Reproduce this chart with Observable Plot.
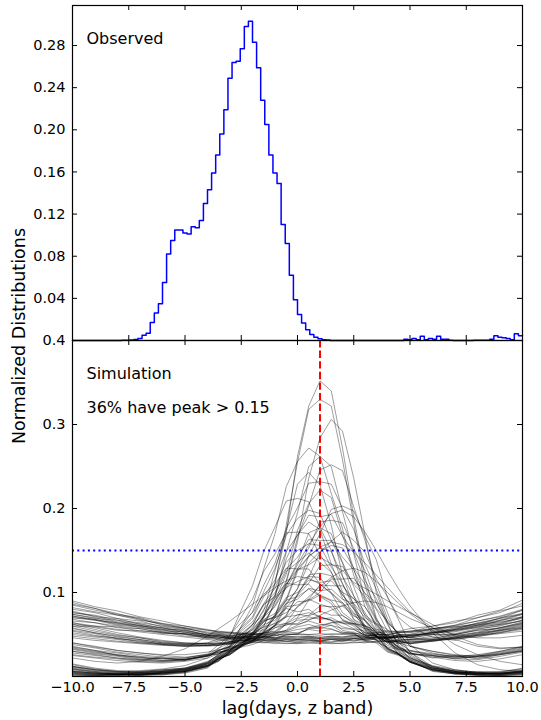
<!DOCTYPE html>
<html><head><meta charset="utf-8">
<script src="https://cdn.jsdelivr.net/npm/d3@7"></script>
<script src="https://cdn.jsdelivr.net/npm/@observablehq/plot@0.6"></script>
<style>
html,body{margin:0;padding:0;background:#fff;}
#wrap{position:relative;width:541px;height:720px;font-family:"DejaVu Sans",sans-serif;color:#000;}
#top,#bot{position:absolute;left:0;}
#top{top:0;}
#bot{top:330px;}
#ylab{position:absolute;left:19px;top:336px;transform:translate(-50%,-50%) rotate(-90deg);font-size:17.5px;white-space:nowrap;}
</style></head><body>
<div id="wrap"><div id="top"></div><div id="bot"></div><div id="ylab">Normalized Distributions</div></div>
<script>
// ---------- tick labels ----------
const xTicks = [-10, -7.5, -5, -2.5, 0, 2.5, 5, 7.5, 10];
const obsYTicks = [0.04, 0.08, 0.12, 0.16, 0.20, 0.24, 0.28];
const simYTicks = [0.1, 0.2, 0.3, 0.4];

// ---------- observed histogram (110 bins from -10 to 10) ----------
const obsBinCount = 110;
const obsValues = [
 0,0,0,0,0,0,0,0,0,0,0,0,
 .0003,.0003,.0005,.001,.002,.005,.007,.017,.026,.035,
 .055,.082,.095,.105,.105,.102,.101,.108,.107,.114,
 .130,.143,.159,.176,.196,.219,.249,.264,.265,.277,
 .298,.303,.283,.259,.228,.205,.176,.159,.149,.110,
 .092,.062,.0386,.0247,.0165,.0101,.0057,.0032,.0016,.0007,
 .0005,
 0,0,0,0,0,0,0,0,0,0,0,0,0,0,0,0,0,0,
 .0013,.0006,.002,.0006,.004,.0006,.002,.0013,.004,.0013,
 .0013,.0003,
 0,0,0,0,0,
 .0003,.0003,.0003,.0003,
 .0013,.0044,.0032,.0025,.002,.0006,.0063,.0044
];

// ---------- simulated lag distributions ----------
const simLags = [-10,-9,-8,-7,-6,-5,-4,-3.5,-3,-2.5,-2,-1.5,-1,-0.5,0,0.5,1,1.5,2,2.5,3,3.5,4,4.5,5,6,7,8,9,10];

const simPeakedCurves = [
 [.006,.004,.003,.004,.003,.006,.012, .020,.027,.036,.050,.072,.112,.170,.262,.322,.352,.340,.272,.190,.118,.070,.045,.030,.020, .010,.005,.003,.004,.007],
 [.012,.008,.005,.004,.006,.009,.013, .019,.029,.037,.053,.071,.110,.180,.255,.318,.330,.322,.258,.182,.108,.068,.046,.026,.018, .008,.004,.006,.005,.010],
 [.003,.002,.004,.002,.005,.007,.015, .021,.026,.036,.041,.054,.070,.112,.160,.236,.284,.306,.292,.236,.168,.100,.064,.034,.021, .012,.006,.004,.003,.005],
 [.015,.010,.007,.006,.008,.010,.018, .025,.035,.060,.084,.128,.170,.226,.256,.272,.262,.218,.176,.120,.090,.058,.042,.026,.020, .010,.007,.005,.006,.009],
 [.035,.031,.025,.023,.019,.021,.024, .029,.031,.041,.047,.070,.094,.148,.195,.250,.262,.250,.196,.146,.092,.066,.043,.036,.027, .025,.021,.024,.029,.034],
 [.004,.003,.002,.003,.004,.006,.012, .018,.030,.036,.049,.060,.088,.114,.165,.203,.246,.252,.245,.202,.162,.110,.076,.044,.029, .012,.006,.003,.002,.004],
 [.055,.051,.045,.043,.038,.037,.036, .037,.041,.044,.059,.078,.126,.174,.229,.243,.228,.180,.120,.084,.056,.047,.040,.042,.039, .042,.045,.047,.053,.057],
 [.009,.005,.003,.004,.006,.008,.016, .027,.037,.059,.077,.109,.135,.176,.201,.230,.232,.229,.200,.175,.133,.104,.069,.049,.029, .008,.004,.003,.004,.007],
 [.030,.027,.024,.020,.022,.019,.025, .027,.034,.038,.049,.060,.090,.122,.174,.206,.222,.213,.168,.128,.083,.061,.041,.035,.028, .022,.025,.021,.026,.031],
 [.012,.008,.006,.007,.009,.013,.022, .033,.048,.079,.108,.149,.178,.209,.212,.208,.177,.150,.110,.086,.060,.049,.033,.027,.018, .010,.006,.004,.003,.006],
 [.006,.004,.003,.002,.004,.007,.013, .021,.027,.037,.042,.053,.061,.085,.105,.144,.170,.199,.203,.197,.167,.139,.094,.067,.038, .016,.008,.005,.004,.006],
 [.060,.054,.049,.046,.041,.039,.040, .042,.045,.058,.071,.101,.129,.168,.188,.198,.194,.162,.135,.096,.076,.055,.048,.041,.042, .043,.046,.050,.055,.061],
 [.036,.031,.028,.024,.022,.020,.026, .034,.040,.056,.069,.095,.115,.149,.168,.192,.190,.193,.167,.148,.114,.093,.064,.051,.036, .028,.023,.025,.030,.036],
 [.007,.004,.002,.003,.005,.007,.013, .019,.029,.036,.047,.053,.074,.092,.128,.153,.184,.186,.183,.152,.126,.088,.062,.037,.026, .011,.005,.004,.003,.004],
 [.050,.047,.044,.040,.038,.036,.037, .039,.038,.044,.050,.071,.097,.140,.169,.184,.175,.134,.101,.068,.055,.043,.042,.039,.041, .043,.046,.049,.052,.056],
 [.002,.001,.002,.001,.003,.005,.011, .022,.027,.037,.043,.058,.073,.108,.136,.171,.177,.170,.136,.107,.072,.054,.034,.027,.018, .009,.004,.002,.001,.002],
 [.033,.029,.026,.022,.021,.022,.027, .038,.049,.071,.092,.125,.146,.171,.172,.170,.145,.125,.093,.076,.056,.049,.037,.033,.028, .024,.022,.023,.027,.032],
 [.052,.048,.046,.041,.039,.038,.037, .037,.041,.040,.047,.049,.061,.072,.098,.118,.148,.161,.172,.162,.148,.116,.095,.070,.059, .047,.043,.049,.052,.058],
 [.010,.006,.004,.005,.007,.009,.017, .025,.033,.051,.062,.085,.100,.128,.142,.163,.162,.162,.142,.127,.098,.080,.054,.041,.024, .012,.007,.004,.003,.005],
 [.038,.034,.029,.026,.023,.022,.026, .031,.036,.050,.061,.087,.105,.136,.150,.158,.156,.130,.111,.081,.066,.048,.041,.032,.030, .026,.024,.022,.026,.030],
 [.058,.052,.048,.044,.040,.039,.038, .039,.039,.043,.045,.055,.064,.087,.104,.135,.149,.156,.153,.129,.110,.081,.066,.050,.046, .044,.046,.051,.056,.062],
 [.025,.022,.019,.017,.016,.018,.022, .027,.033,.037,.046,.052,.072,.090,.125,.143,.153,.149,.119,.096,.066,.053,.039,.034,.027, .023,.019,.018,.021,.026],
 [.005,.003,.002,.003,.004,.007,.014, .023,.031,.047,.057,.080,.097,.125,.136,.147,.136,.124,.097,.080,.058,.049,.033,.027,.018, .009,.005,.003,.004,.006],
 [.032,.028,.025,.021,.019,.020,.025, .030,.039,.047,.062,.073,.094,.105,.127,.133,.142,.134,.126,.112,.105,.098,.090,.083,.076, .062,.048,.038,.034,.035],
 [.003,.002,.001,.002,.003,.006,.012, .019,.029,.035,.044,.047,.062,.073,.097,.111,.132,.133,.131,.110,.095,.068,.051,.031,.023, .010,.004,.002,.001,.003],
 [.054,.049,.045,.042,.039,.037,.040, .045,.050,.064,.076,.098,.110,.129,.128,.128,.110,.099,.076,.066,.052,.048,.041,.042,.039, .042,.045,.049,.054,.059],
 [.008,.005,.003,.002,.004,.006,.013, .021,.026,.036,.041,.052,.060,.082,.097,.121,.123,.120,.097,.081,.058,.048,.032,.026,.017, .008,.004,.002,.002,.004],
 [.062,.056,.050,.046,.042,.040,.039, .040,.041,.050,.055,.071,.083,.106,.113,.119,.118,.100,.088,.068,.060,.047,.044,.040,.041, .042,.047,.052,.058,.064],
 [.028,.025,.022,.019,.018,.020,.024, .029,.031,.038,.040,.048,.050,.063,.070,.091,.100,.116,.116,.117,.099,.088,.064,.052,.036, .030,.025,.024,.027,.031],
 [.011,.007,.005,.006,.008,.010,.016, .023,.030,.045,.052,.068,.075,.094,.100,.115,.112,.114,.100,.093,.073,.063,.044,.035,.022, .013,.008,.005,.004,.006],
 [.014,.009,.006,.005,.007,.010,.017, .026,.036,.054,.065,.086,.095,.111,.109,.110,.095,.087,.067,.060,.047,.043,.030,.026,.017, .008,.005,.004,.005,.008],
 [.048,.045,.042,.040,.038,.036,.037, .037,.040,.040,.046,.047,.058,.064,.083,.092,.109,.108,.108,.092,.083,.063,.056,.045,.044, .044,.047,.050,.055,.060],
 [.026,.023,.021,.018,.017,.019,.024, .031,.035,.046,.051,.066,.071,.087,.092,.105,.102,.104,.092,.087,.070,.062,.047,.040,.031, .025,.021,.020,.024,.029],
 [.004,.002,.003,.002,.004,.006,.013, .022,.029,.042,.048,.065,.072,.091,.095,.104,.096,.090,.072,.065,.049,.044,.031,.026,.017, .007,.003,.002,.003,.005],
 [.006,.004,.003,.004,.005,.008,.014, .021,.031,.039,.051,.056,.070,.076,.089,.090,.097,.091,.088,.075,.068,.052,.043,.029,.022, .011,.006,.004,.003,.005],
 [.057,.052,.047,.044,.040,.038,.039, .040,.040,.047,.049,.062,.067,.083,.085,.092,.086,.082,.068,.062,.050,.048,.041,.042,.039, .044,.048,.053,.058,.063],
 [.034,.030,.026,.023,.021,.020,.025, .027,.033,.036,.043,.044,.052,.055,.069,.073,.084,.083,.084,.072,.067,.052,.046,.034,.031, .027,.024,.026,.030,.035],
 [.009,.006,.004,.005,.006,.009,.015, .024,.031,.046,.052,.067,.070,.081,.077,.080,.070,.067,.055,.052,.042,.040,.029,.025,.017, .008,.004,.003,.003,.006],
 [.064,.058,.052,.047,.043,.040,.039, .038,.042,.043,.050,.051,.061,.063,.074,.072,.078,.073,.073,.063,.061,.051,.049,.043,.043, .045,.050,.056,.061,.067],
 [.002,.001,.002,.003,.002,.005,.012, .022,.028,.038,.043,.052,.054,.063,.063,.071,.068,.070,.063,.062,.052,.048,.034,.028,.019, .006,.003,.001,.002,.003],
 [.040,.036,.031,.028,.025,.023,.026, .029,.032,.040,.042,.052,.053,.062,.062,.066,.062,.061,.053,.051,.043,.041,.035,.032,.027, .025,.023,.024,.028,.033],
 [.001,.001,.002,.001,.002,.004,.010, .021,.026,.035,.038,.043,.044,.050,.050,.058,.057,.061,.057,.056,.049,.044,.033,.027,.018, .007,.003,.002,.001,.002],
 [.046,.043,.041,.039,.037,.036,.037, .039,.039,.043,.043,.047,.048,.053,.052,.056,.054,.056,.052,.053,.047,.047,.042,.043,.040, .043,.045,.048,.051,.054],
 [.030,.026,.022,.020,.018,.020,.025, .031,.036,.045,.056,.072,.090,.110,.128,.143,.154,.160,.157,.148,.135,.121,.106,.091,.077, .058,.044,.036,.033,.035],
 [.012,.008,.006,.005,.006,.009,.016, .024,.032,.040,.045,.052,.060,.071,.083,.095,.107,.118,.126,.129,.124,.113,.100,.087,.075, .055,.038,.026,.018,.014],
 [.005,.003,.002,.003,.005,.008,.015, .022,.030,.039,.050,.065,.085,.108,.133,.157,.178,.194,.198,.190,.172,.150,.126,.104,.084, .052,.028,.014,.008,.006],
 [.022,.018,.016,.018,.024,.033,.048, .057,.066,.076,.086,.096,.106,.114,.119,.117,.110,.099,.086,.073,.061,.052,.045,.040,.036, .030,.026,.024,.026,.030],
 [.040,.035,.031,.028,.026,.026,.029, .032,.035,.038,.041,.045,.050,.055,.061,.067,.073,.079,.084,.088,.090,.088,.083,.076,.069, .058,.050,.046,.046,.049]
];

const simBowlCurves = [
 [.078,.071,.069,.062,.058,.054,.049, .047,.045,.044,.042,.043,.041,.042,.040,.042,.041,.041,.042,.043,.042,.045,.046,.047,.049, .052,.056,.061,.066,.074],
 [.070,.068,.063,.061,.056,.055,.050, .051,.048,.049,.047,.048,.046,.048,.047,.048,.046,.048,.047,.049,.048,.050,.050,.052,.054, .056,.061,.066,.072,.080],
 [.085,.079,.074,.070,.063,.060,.055, .054,.052,.052,.050,.051,.049,.051,.050,.050,.049,.051,.050,.051,.050,.052,.052,.053,.054, .057,.059,.062,.065,.069],
 [.066,.064,.058,.057,.052,.051,.046, .047,.045,.046,.048,.048,.053,.054,.059,.062,.058,.057,.051,.050,.046,.047,.045,.048,.047, .052,.054,.060,.063,.071],
 [.074,.069,.067,.060,.058,.052,.050, .047,.047,.045,.045,.043,.044,.042,.044,.043,.042,.044,.043,.045,.044,.047,.046,.050,.050, .057,.061,.070,.076,.087],
 [.090,.083,.078,.071,.066,.060,.056, .053,.052,.050,.050,.048,.049,.047,.048,.048,.047,.048,.047,.049,.048,.050,.050,.052,.052, .057,.060,.066,.071,.079],
 [.068,.064,.060,.057,.052,.050,.045, .045,.042,.043,.041,.041,.039,.040,.039,.040,.039,.040,.039,.041,.040,.042,.042,.044,.044, .048,.050,.055,.058,.065],
 [.072,.067,.064,.058,.056,.050,.048, .045,.047,.046,.050,.051,.058,.061,.067,.068,.071,.067,.064,.057,.054,.048,.048,.046,.049, .050,.056,.059,.067,.071],
 [.080,.076,.069,.066,.059,.056,.049, .050,.047,.048,.045,.046,.044,.045,.044,.046,.043,.046,.044,.046,.045,.047,.046,.049,.048, .053,.055,.061,.064,.071],
 [.064,.060,.059,.054,.053,.048,.047, .044,.045,.042,.044,.041,.043,.042,.041,.043,.042,.041,.044,.042,.045,.044,.047,.046,.049, .051,.058,.061,.070,.075],
 [.076,.072,.065,.063,.057,.055,.049, .049,.046,.047,.045,.047,.046,.050,.051,.057,.059,.064,.064,.063,.057,.054,.049,.049,.046, .050,.051,.057,.060,.067],
 [.082,.077,.073,.067,.063,.058,.055, .053,.053,.051,.052,.050,.051,.049,.051,.050,.051,.050,.051,.051,.052,.052,.054,.054,.057, .060,.066,.070,.078,.084],
 [.070,.067,.061,.059,.053,.051,.046, .047,.044,.045,.043,.044,.042,.044,.042,.044,.042,.044,.042,.045,.043,.046,.044,.047,.046, .050,.050,.055,.057,.063],
 [.060,.059,.055,.055,.051,.051,.048, .049,.046,.048,.045,.047,.045,.046,.045,.047,.045,.046,.045,.047,.046,.048,.047,.050,.050, .054,.057,.063,.067,.075],
 [.074,.070,.064,.061,.055,.053,.048, .049,.047,.051,.052,.059,.063,.071,.073,.076,.071,.067,.059,.056,.049,.049,.046,.048,.047, .053,.056,.064,.069,.079],
 [.086,.081,.073,.069,.061,.058,.051, .052,.049,.050,.047,.048,.046,.047,.046,.047,.045,.047,.046,.048,.047,.050,.049,.053,.053, .060,.064,.073,.079,.091],
 [.072,.068,.062,.060,.054,.053,.047, .048,.045,.046,.043,.045,.043,.044,.043,.045,.042,.045,.043,.045,.044,.046,.045,.048,.047, .052,.053,.059,.062,.070],
 [.062,.060,.056,.053,.050,.047,.044, .043,.042,.041,.041,.040,.041,.039,.040,.040,.041,.039,.040,.040,.041,.041,.042,.043,.044, .046,.049,.052,.055,.058],
 [.076,.073,.067,.064,.060,.057,.053, .052,.051,.050,.051,.050,.052,.053,.056,.058,.061,.064,.066,.063,.060,.056,.054,.053,.053, .055,.059,.063,.069,.074],
 [.088,.081,.075,.068,.062,.057,.052, .050,.049,.047,.046,.046,.045,.045,.044,.045,.045,.044,.045,.045,.046,.047,.047,.048,.049, .052,.055,.058,.062,.066]
];

const peakLagMarker = [1.0];
const peakThreshold = [0.15];
const topLabel = ["Observed"];
const simLabels = ["Simulation", "36% have peak > 0.15"];
const xLabel = ["lag(days, z band)"];

// ---------- build tables ----------
const obsPoints = obsValues.map((v, i) => ({lag: -10 + i * 20 / obsBinCount, value: v}));
obsPoints.push({lag: 10, value: obsValues[obsValues.length - 1]});

const simPoints = [];
[...simPeakedCurves, ...simBowlCurves].forEach((vals, ci) => {
  vals.forEach((v, i) => { if (i < simLags.length) simPoints.push({curve: ci, lag: simLags[i], value: v}); });
});

// ---------- layout ----------
const W = 541, ML = 72, MR = 19, TICK = 5;
const plotW = W - ML - MR;
const fmt2 = d3.format(".2f"), fmt1 = d3.format(".1f");
const baseStyle = {background: "transparent", fontFamily: "'DejaVu Sans', sans-serif", fontSize: "14.5px", overflow: "visible", color: "black"};

// top panel
const topH = 341, topMT = 5, topMB = 1, topPH = topH - topMT - topMB;
const topPlot = Plot.plot({
  width: W, height: topH, marginLeft: ML, marginRight: MR, marginTop: topMT, marginBottom: topMB,
  style: baseStyle,
  x: {domain: [-10, 10], axis: null},
  y: {domain: [0, 0.318]},
  marks: [
    Plot.line(obsPoints, {x: "lag", y: "value", curve: "step-after", stroke: "#0000ff", strokeWidth: 1.5}),
    Plot.frame({stroke: "black", strokeWidth: 1.2}),
    Plot.ruleX(xTicks, {insetTop: topPH - TICK, stroke: "black"}),
    Plot.ruleX(xTicks, {insetBottom: topPH - TICK, stroke: "black"}),
    Plot.ruleY(obsYTicks, {insetRight: plotW - TICK, stroke: "black"}),
    Plot.ruleY(obsYTicks, {insetLeft: plotW - TICK, stroke: "black"}),
    Plot.axisY(obsYTicks, {tickSize: 0, tickPadding: 7, tickFormat: fmt2, label: null, fontSize: 14.5}),
    Plot.text(topLabel, {frameAnchor: "top-left", dx: 14, dy: 33, textAnchor: "start", lineAnchor: "middle", fontSize: 16})
  ]
});
document.getElementById("top").append(topPlot);

// bottom panel
const botH = 390, botMT = 10, botMB = 44, botPH = botH - botMT - botMB;
const botPlot = Plot.plot({
  width: W, height: botH, marginLeft: ML, marginRight: MR, marginTop: botMT, marginBottom: botMB,
  style: baseStyle,
  x: {domain: [-10, 10]},
  y: {domain: [0, 0.4]},
  marks: [
    Plot.line(simPoints, {x: "lag", y: "value", z: "curve", stroke: "black", strokeOpacity: 0.48, strokeWidth: 0.8}),
    Plot.ruleY(peakThreshold, {stroke: "#0000ff", strokeWidth: 2, strokeDasharray: "2,3.3"}),
    Plot.ruleX(peakLagMarker, {stroke: "red", strokeWidth: 2, strokeDasharray: "7.4,3.2"}),
    Plot.frame({stroke: "black", strokeWidth: 1.2}),
    Plot.ruleX(xTicks, {insetTop: botPH - TICK, stroke: "black"}),
    Plot.ruleX(xTicks, {insetBottom: botPH - TICK, stroke: "black"}),
    Plot.ruleY(simYTicks, {insetRight: plotW - TICK, stroke: "black"}),
    Plot.ruleY(simYTicks, {insetLeft: plotW - TICK, stroke: "black"}),
    Plot.axisX(xTicks, {tickSize: 0, tickPadding: 5, tickFormat: fmt1, label: null, fontSize: 14.5}),
    Plot.axisY(simYTicks, {tickSize: 0, tickPadding: 7, tickFormat: fmt1, label: null, fontSize: 14.5}),
    Plot.text([simLabels[0]], {frameAnchor: "top-left", dx: 14, dy: 33, textAnchor: "start", lineAnchor: "middle", fontSize: 16}),
    Plot.text([simLabels[1]], {frameAnchor: "top-left", dx: 14, dy: 67, textAnchor: "start", lineAnchor: "middle", fontSize: 16}),
    Plot.text(xLabel, {frameAnchor: "bottom", dy: 32, lineAnchor: "middle", fontSize: 17.5})
  ]
});
document.getElementById("bot").append(botPlot);
</script>
</body></html>
